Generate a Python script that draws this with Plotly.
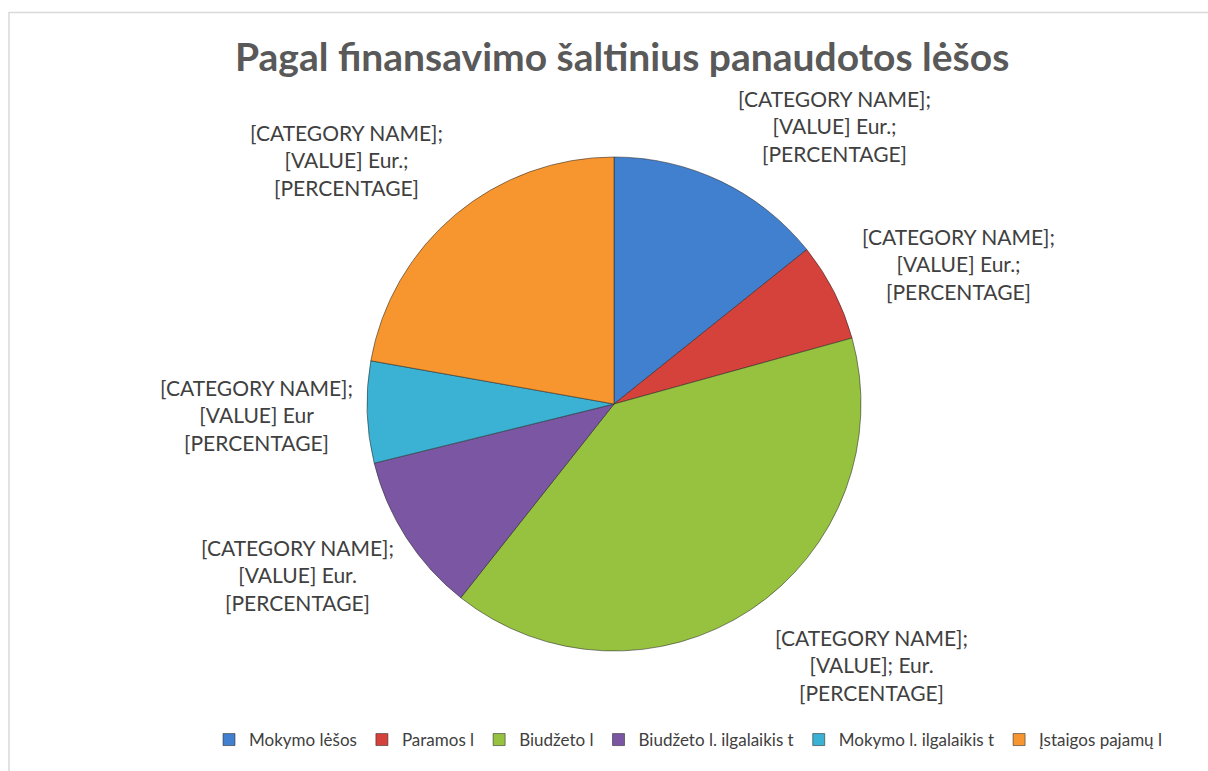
import plotly.graph_objects as go

categories = ["Mokymo lėšos", "Paramos l", "Biudžeto l", "Biudžeto l. ilgalaikis t",
              "Mokymo l. ilgalaikis t", "Įstaigos pajamų l"]
values = [14.25, 6.45, 39.95, 10.5, 6.65, 22.2]
colors = ["#4180CE", "#D5423C", "#97C23F", "#7A56A3", "#3BB1D3", "#F7962F"]
label_texts = [
    "[CATEGORY NAME];<br>[VALUE] Eur.;<br>[PERCENTAGE]",
    "[CATEGORY NAME];<br>[VALUE] Eur.;<br>[PERCENTAGE]",
    "[CATEGORY NAME];<br>[VALUE]; Eur.<br>[PERCENTAGE]",
    "[CATEGORY NAME];<br>[VALUE] Eur.<br>[PERCENTAGE]",
    "[CATEGORY NAME];<br>[VALUE] Eur<br>[PERCENTAGE]",
    "[CATEGORY NAME];<br>[VALUE] Eur.;<br>[PERCENTAGE]",
]
# label anchor positions in pixels (x, y from top)
label_pos = [(834, 126), (958, 264), (871, 665), (297, 575), (256, 415), (346, 160)]

W, H = 1208, 771
FONT = "Lato"

fig = go.Figure()
fig.add_trace(go.Pie(
    labels=categories,
    values=values,
    sort=False,
    direction="clockwise",
    rotation=0,
    marker=dict(colors=colors, line=dict(color="rgba(40,40,40,0.55)", width=1)),
    textinfo="none",
    hoverinfo="label+percent",
    domain=dict(x=[367 / W, 861 / W], y=[(H - 651) / H, (H - 157) / H]),
))

for txt, (px, py) in zip(label_texts, label_pos):
    fig.add_annotation(
        x=px / W, y=1 - py / H, xref="paper", yref="paper",
        text=txt, showarrow=False, align="center",
        xanchor="center", yanchor="middle",
        font=dict(family=FONT, size=21, color="#404040"),
    )

fig.add_annotation(
    x=622 / W, y=1 - 56 / H, xref="paper", yref="paper",
    text="<b>Pagal finansavimo šaltinius panaudotos lėšos</b>",
    showarrow=False, xanchor="center", yanchor="middle",
    font=dict(family=FONT, size=39, color="#595959"),
)

fig.add_shape(type="rect", xref="paper", yref="paper",
              x0=9 / W, x1=1.01, y0=-0.05, y1=1 - 12.5 / H,
              line=dict(color="#D9D9D9", width=1.5), layer="below")

fig.update_layout(
    width=W, height=H,
    margin=dict(l=0, r=0, t=0, b=0),
    paper_bgcolor="white",
    plot_bgcolor="white",
    showlegend=True,
    legend=dict(
        orientation="h", x=209 / W, xanchor="left", y=1 - 740 / H, yanchor="middle",
        font=dict(family=FONT, size=17, color="#404040"),
        itemwidth=30, tracegroupgap=0, traceorder="normal",
    ),
)

fig.write_html("out.html")
